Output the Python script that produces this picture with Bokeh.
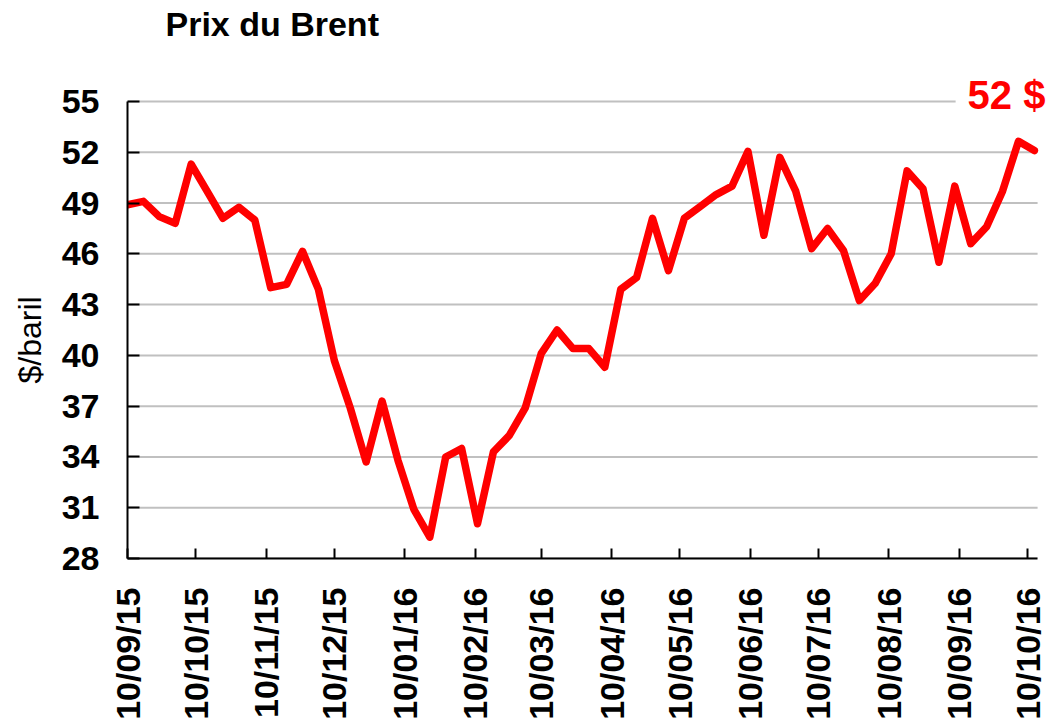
import pandas as pd
from bokeh.plotting import figure
from bokeh.models import FixedTicker, DatetimeTickFormatter, Label, Range1d, Title
from bokeh.embed import file_html
from bokeh.resources import INLINE

# ---- data ----
start_date = "2015-09-10"   # weekly observations
brent = [48.9, 49.1, 48.2, 47.8, 51.3, 49.7, 48.1, 48.75, 48.0, 44.0,
         44.2, 46.15, 43.9, 39.7, 36.9, 33.7, 37.3, 33.8, 30.9, 29.26,
         34.0, 34.5, 30.05, 34.3, 35.27, 36.9, 40.1, 41.5, 40.4, 40.4,
         39.3, 43.9, 44.6, 48.1, 45.0, 48.1, 48.8, 49.5, 50.0, 52.05,
         47.1, 51.7, 49.7, 46.3, 47.5, 46.2, 43.24, 44.26, 46.0, 50.9,
         49.85, 45.5, 50.0, 46.6, 47.6, 49.7, 52.65, 52.1]
tick_dates = ["2015-09-10", "2015-10-10", "2015-11-10", "2015-12-10",
              "2016-01-10", "2016-02-10", "2016-03-10", "2016-04-10",
              "2016-05-10", "2016-06-10", "2016-07-10", "2016-08-10",
              "2016-09-10", "2016-10-10"]
y_ticks = [28, 31, 34, 37, 40, 43, 46, 49, 52, 55]
title_text = "Prix du Brent"
unit_label = "$/baril"
last_label = "52 $"

FONT = "Liberation Sans"
DAY = 86400000.0

def ms(d):
    return pd.Timestamp(d).value / 1e6

dates = pd.date_range(start_date, periods=len(brent), freq="7D")

x_start = ms(start_date)
x_axis_end = ms("2016-10-14 10:00")
x_view_end = x_start + 406.1 * DAY
y_lo, y_hi = y_ticks[0], y_ticks[-1]
y_view_top = y_hi + 101 / (457 / (y_hi - y_lo))

p = figure(width=1050, height=723, x_axis_type="datetime",
           output_backend="svg", toolbar_location=None,
           x_range=Range1d(x_start, x_view_end),
           y_range=Range1d(y_lo, y_view_top),
           min_border_left=127, min_border_right=0,
           min_border_top=0, min_border_bottom=165)
p.outline_line_color = None
p.background_fill_color = "white"
p.border_fill_color = "white"

# horizontal grid lines, limited to the axis extent
p.xgrid.grid_line_color = None
p.ygrid.grid_line_color = None
p.segment(x0=[x_start] * len(y_ticks), x1=[x_axis_end] * len(y_ticks),
          y0=y_ticks, y1=y_ticks, line_color="#c0c0c0", line_width=2,
          level="underlay")

p.line(dates, brent, line_color="#ff0000", line_width=7.5,
       line_join="round", line_cap="round")

# y axis
p.yaxis.bounds = (y_lo, y_hi)
p.yaxis.ticker = FixedTicker(ticks=y_ticks)
p.yaxis.minor_tick_line_color = None
p.yaxis.major_tick_in = 12
p.yaxis.major_tick_out = 0
p.yaxis.major_tick_line_width = 2
p.yaxis.axis_line_width = 2
p.yaxis.axis_line_color = "black"
p.yaxis.major_tick_line_color = "black"
p.yaxis.major_label_text_font = FONT
p.yaxis.major_label_text_font_style = "bold"
p.yaxis.major_label_text_font_size = "34px"
p.yaxis.major_label_text_color = "black"
p.yaxis.major_label_standoff = 28

# unit label, placed along the left side
p.add_layout(Title(text=unit_label, align="left", offset=175,
                   vertical_align="top", standoff=18,
                   text_font=FONT, text_font_style="normal",
                   text_font_size="32px", text_color="black"), "left")

# x axis
p.xaxis.bounds = (x_start, x_axis_end)
p.xaxis.ticker = FixedTicker(ticks=[ms(d) for d in tick_dates])
fmt = "%d/%m/%y"
p.xaxis.formatter = DatetimeTickFormatter(
    microseconds=fmt, milliseconds=fmt, seconds=fmt, minsec=fmt,
    minutes=fmt, hourmin=fmt, hours=fmt, days=fmt, months=fmt, years=fmt)
p.xaxis.major_label_orientation = 3.14159265 / 2
p.xaxis.minor_tick_line_color = None
p.xaxis.major_tick_in = 10
p.xaxis.major_tick_out = 0
p.xaxis.major_tick_line_width = 2
p.xaxis.axis_line_width = 2
p.xaxis.axis_line_color = "black"
p.xaxis.major_tick_line_color = "black"
p.xaxis.major_label_text_font = FONT
p.xaxis.major_label_text_font_style = "bold"
p.xaxis.major_label_text_font_size = "34px"
p.xaxis.major_label_text_color = "black"
p.xaxis.major_label_standoff = 29

# title
p.add_layout(Label(x=ms("2015-09-26 17:00"), y=59.6, text=title_text,
                   text_font=FONT, text_font_style="bold",
                   text_font_size="34px", text_color="black",
                   text_align="left", text_baseline="alphabetic"))

# last value annotation
p.add_layout(Label(x=ms("2016-10-23 04:00"), y=55.36, text=last_label,
                   text_font=FONT, text_font_style="bold",
                   text_font_size="40px", text_color="#ff0000",
                   text_align="right", text_baseline="alphabetic",
                   background_fill_color="white", padding=12))

open("out.html", "w").write(file_html(p, INLINE))
